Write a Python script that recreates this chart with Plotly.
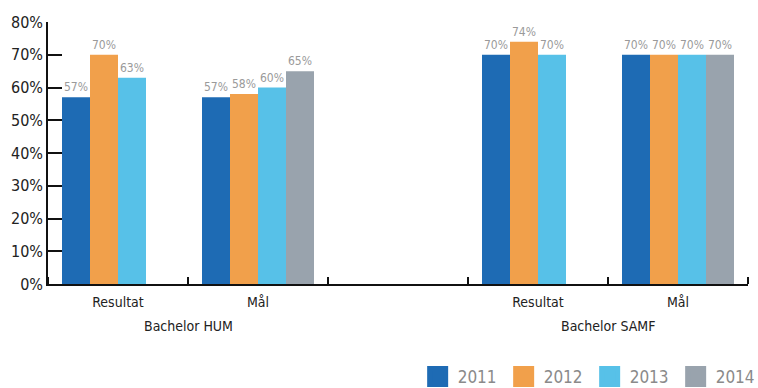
import plotly.graph_objects as go

# Category slots along the x axis (slot 2 is an empty spacer between programmes)
slot_labels = ["Resultat", "Mål", "", "Resultat", "Mål"]
slot_pos = [0, 1, 2, 3, 4]
groups = ["Bachelor HUM", "Bachelor SAMF"]
group_centers = [0.5, 3.5]

years = ["2011", "2012", "2013", "2014"]
values = {
    "2011": [57, 57, None, 70, 70],
    "2012": [70, 58, None, 74, 70],
    "2013": [63, 60, None, 70, 70],
    "2014": [None, 65, None, None, 70],
}
colors = {
    "2011": "#1e6bb4",
    "2012": "#f1a04b",
    "2013": "#57c1e8",
    "2014": "#99a3ad",
}

y_ticks = [0, 10, 20, 30, 40, 50, 60, 70, 80]
y_ticktext = [f"{v}%" for v in y_ticks]

FONT = "DejaVu Sans Condensed"

fig = go.Figure()
for yr in years:
    vals = values[yr]
    fig.add_trace(go.Bar(
        x=slot_pos, y=vals, name=yr,
        marker=dict(color=colors[yr], line=dict(width=0)),
        text=[f"{v}%" if v is not None else "" for v in vals],
        textposition="outside", cliponaxis=False,
        textfont=dict(family=FONT, size=12, color="#9a9a9a"),
        showlegend=False,
    ))
# Legend entries with large square swatches
for yr in years:
    fig.add_trace(go.Scatter(
        x=[None], y=[None], mode="markers", name=yr,
        marker=dict(symbol="square", size=16, color=colors[yr],
                    line=dict(width=5, color=colors[yr])),
    ))

for name, cx in zip(groups, group_centers):
    fig.add_annotation(x=cx, xref="x", y=-0.16, yref="paper",
                       text=name, showarrow=False, yanchor="middle",
                       font=dict(family=FONT, size=14, color="#222"))

fig.update_layout(
    width=758, height=388,
    margin=dict(l=48, r=10, t=22, b=104, autoexpand=False),
    paper_bgcolor="white", plot_bgcolor="white",
    barmode="group", bargap=0.2, bargroupgap=0,
    font=dict(family=FONT, color="#222"),
    xaxis=dict(
        range=[-0.5, 4.5], tickmode="array",
        tickvals=[p for p, l in zip(slot_pos, slot_labels) if l],
        ticktext=[l for l in slot_labels if l],
        ticks="", showgrid=False, zeroline=False, ticklabelstandoff=4,
        showline=True, linecolor="#111", linewidth=1.5,
        tickfont=dict(family=FONT, size=14, color="#222"),
        minor=dict(tickmode="linear", tick0=-0.5, dtick=1, ticks="inside",
                   ticklen=7, tickwidth=1.5, tickcolor="#111", showgrid=False),
    ),
    yaxis=dict(
        range=[0, 80], tickmode="array", tickvals=y_ticks, ticktext=y_ticktext,
        ticks="inside", ticklen=14, tickwidth=1.5,
        tickcolor="#111", showgrid=False, zeroline=False,
        showline=True, linecolor="#111", linewidth=1.5,
        tickfont=dict(family=FONT, size=16, color="#222"),
    ),
    legend=dict(
        orientation="h", xref="container", yref="container",
        x=0.551, xanchor="left", y=0.075, yanchor="top",
        entrywidth=41, entrywidthmode="pixels",
        font=dict(family=FONT, size=17, color="#8a8a8a"),
        bgcolor="rgba(0,0,0,0)",
    ),
)

fig.write_html("out.html")
